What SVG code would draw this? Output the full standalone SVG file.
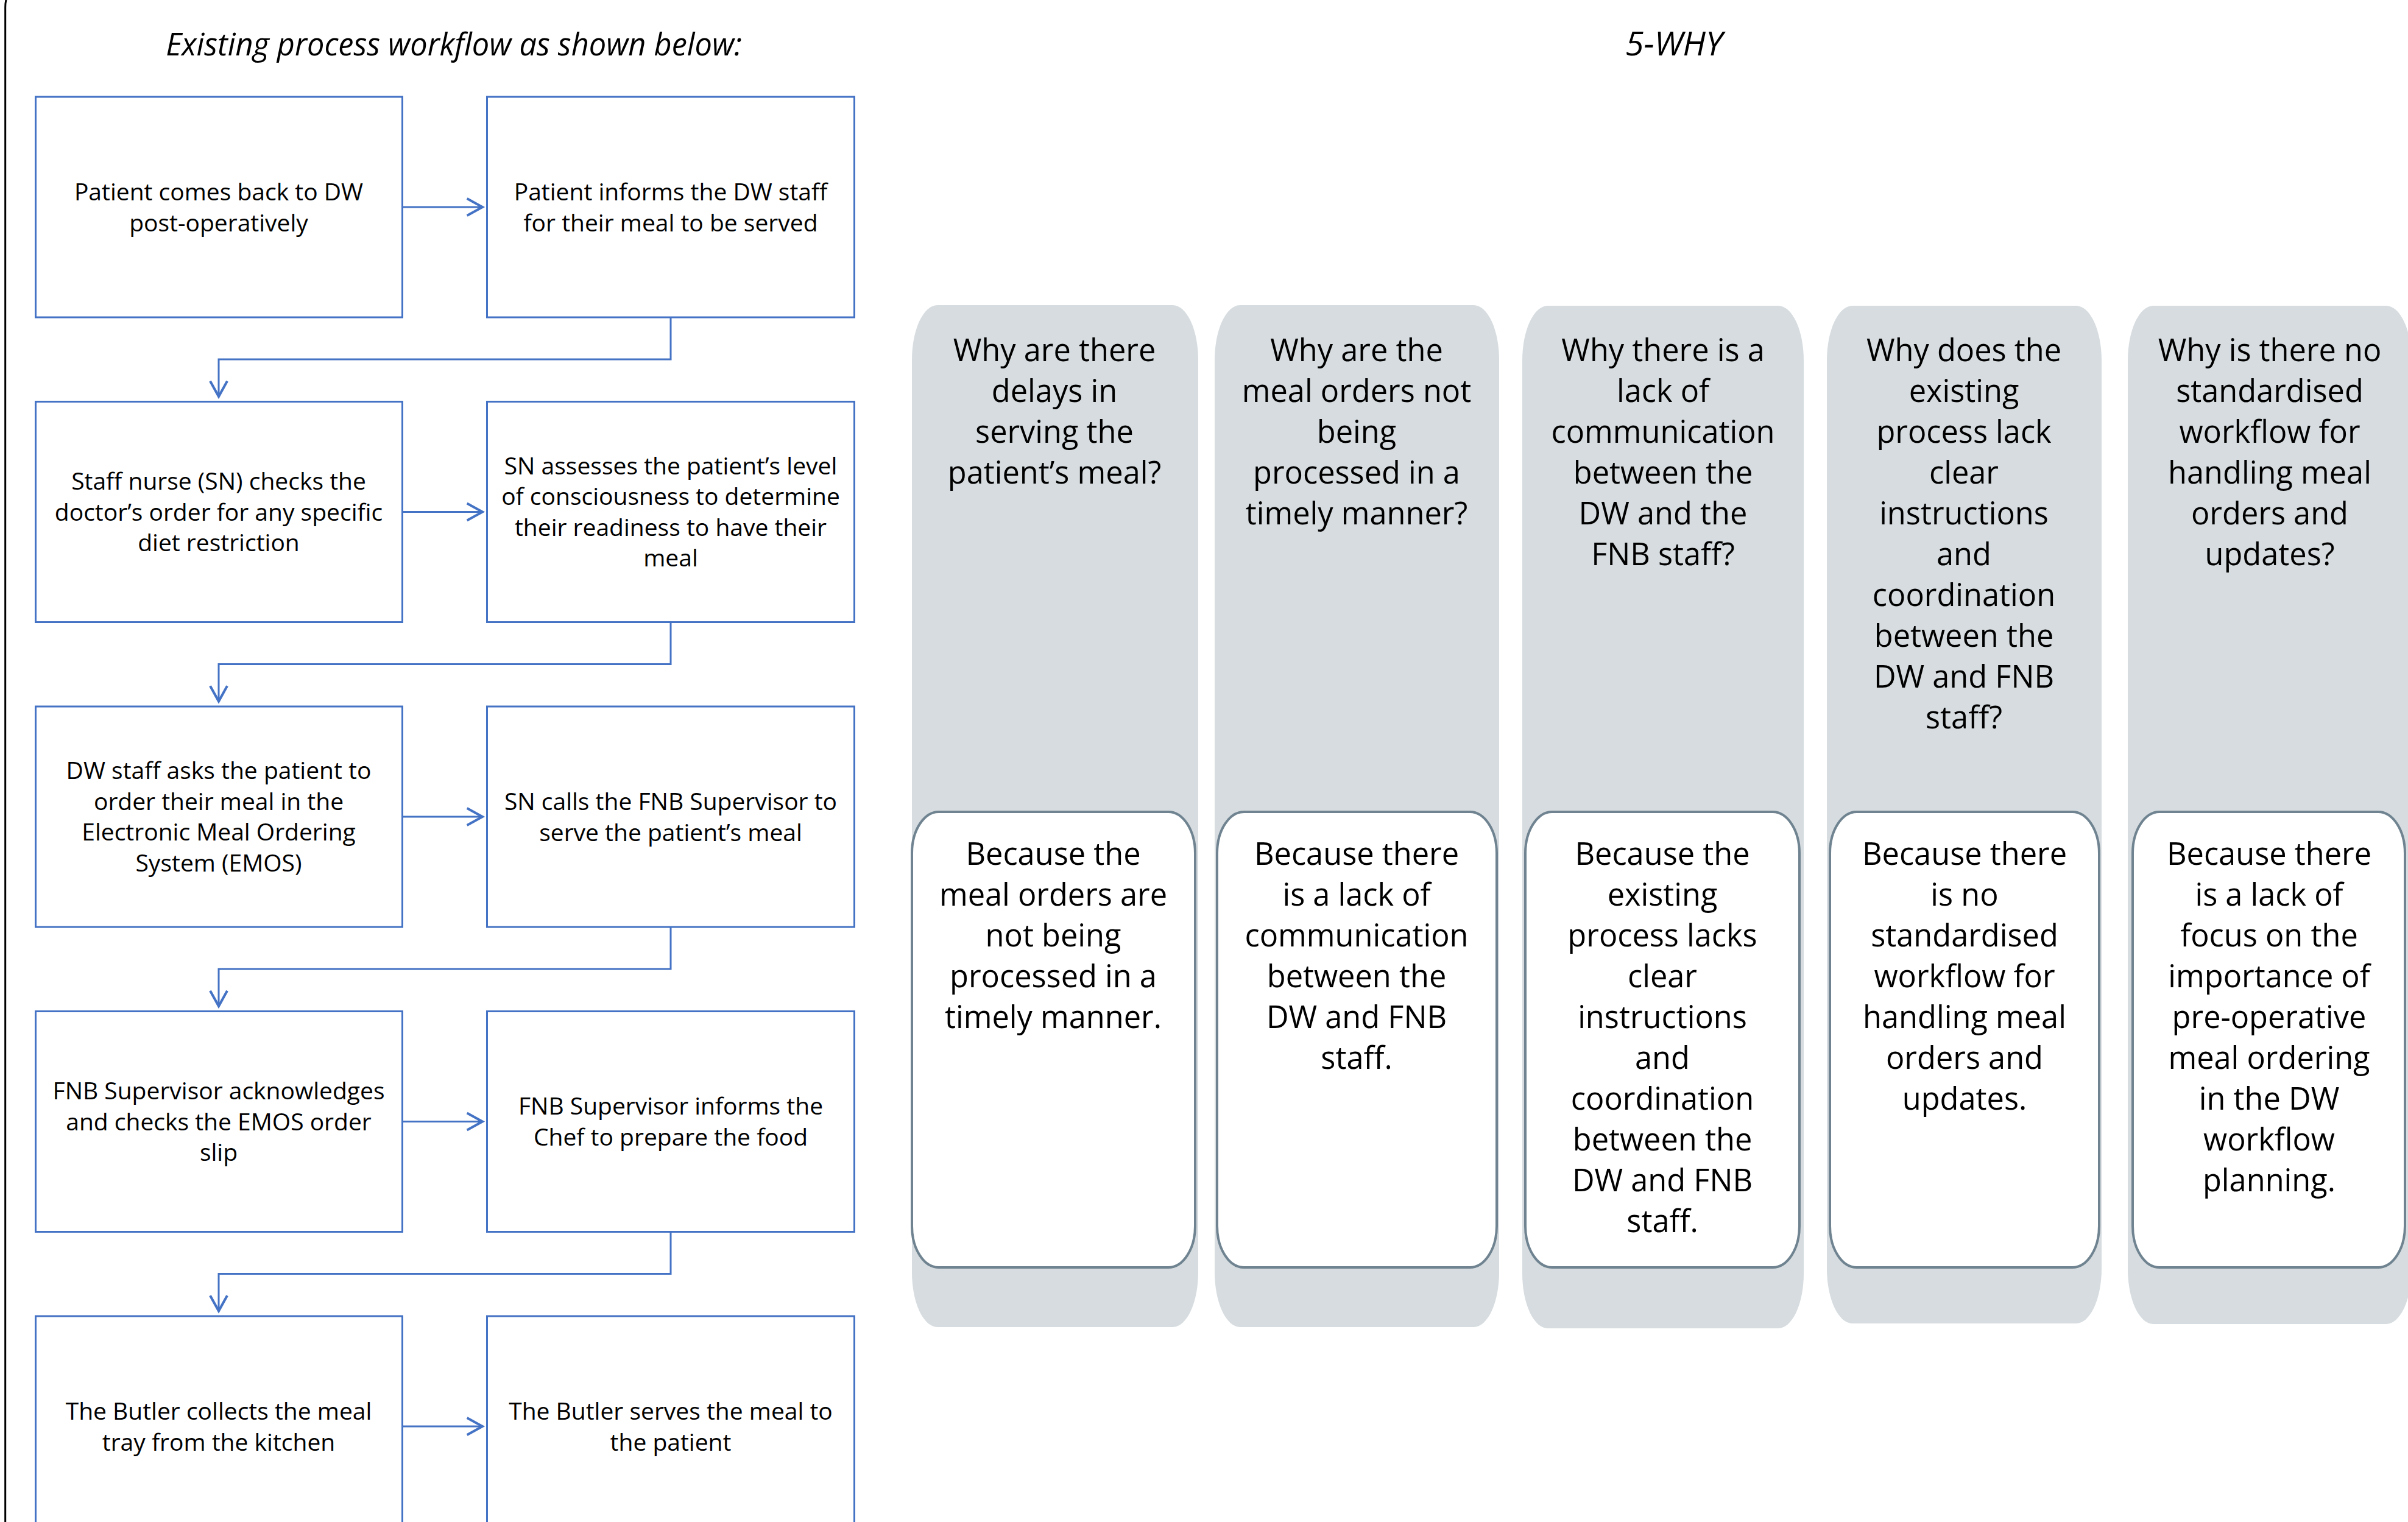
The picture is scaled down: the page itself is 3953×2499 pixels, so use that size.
<svg xmlns="http://www.w3.org/2000/svg" width="3953" height="2499" viewBox="0 0 3953 2499">
<style>
.bg{fill:#ffffff}
.frame{fill:none;stroke:#000000;stroke-width:3}
.title{font-family:"Open Sans","Noto Sans",sans-serif;font-style:italic;font-size:50.5px;fill:#000;text-anchor:middle}
.title2{font-family:"Open Sans","Noto Sans",sans-serif;font-style:italic;font-size:55px;fill:#000;text-anchor:middle}
.box{fill:#ffffff;stroke:#4472C4;stroke-width:3}
.ft{font-family:"Open Sans","Noto Sans",sans-serif;font-size:39px;fill:#000;text-anchor:middle}
.conn{fill:none;stroke:#4472C4;stroke-width:3}
.col{fill:#D6DCDF;stroke:none}
.ans{fill:#ffffff;stroke:#6F8390;stroke-width:4}
.wt{font-family:"Open Sans","Noto Sans",sans-serif;font-size:50.5px;fill:#000;text-anchor:middle}
</style>
<defs>
<marker id="arr" markerUnits="userSpaceOnUse" markerWidth="40" markerHeight="40" refX="0" refY="0" viewBox="-25 -15 30 30" orient="auto" overflow="visible">
<path d="M -19,-10.5 L 0,0 L -19,10.5" fill="none" stroke="#4472C4" stroke-width="3"/>
</marker>
</defs>
<rect class="bg" x="0" y="0" width="3953" height="2499"/>
<path class="frame" d="M 8.7,2510 L 8.7,12 Q 8.7,-2 14,-10"/>
<text class="title" x="745" y="91">Existing process workflow as shown below:</text>
<text class="title2" x="2748" y="91">5-WHY</text>

<g id="connectors">
<path class="conn" d="M 661,340 L 792,340" marker-end="url(#arr)"/>
<path class="conn" d="M 661,840.5 L 792,840.5" marker-end="url(#arr)"/>
<path class="conn" d="M 661,1341 L 792,1341" marker-end="url(#arr)"/>
<path class="conn" d="M 661,1841.5 L 792,1841.5" marker-end="url(#arr)"/>
<path class="conn" d="M 661,2342 L 792,2342" marker-end="url(#arr)"/>
<path class="conn" d="M 1101,521 L 1101,590 L 359,590 L 359,651" marker-end="url(#arr)"/>
<path class="conn" d="M 1101,1021.5 L 1101,1090.5 L 359,1090.5 L 359,1151.5" marker-end="url(#arr)"/>
<path class="conn" d="M 1101,1522 L 1101,1591 L 359,1591 L 359,1652" marker-end="url(#arr)"/>
<path class="conn" d="M 1101,2022.5 L 1101,2091.5 L 359,2091.5 L 359,2152.5" marker-end="url(#arr)"/>
</g>

<g id="n1"><rect class="box" x="58.5" y="159" width="602" height="362"/>
<text class="ft" x="359" y="329">Patient comes back to DW</text><text class="ft" x="359" y="379.5">post-operatively</text></g>
<g id="n2"><rect class="box" x="799.5" y="159" width="603" height="362"/>
<text class="ft" x="1101" y="329">Patient informs the DW staff</text><text class="ft" x="1101" y="379.5">for their meal to be served</text></g>

<g id="n3"><rect class="box" x="58.5" y="659.5" width="602" height="362"/>
<text class="ft" x="359" y="804">Staff nurse (SN) checks the</text><text class="ft" x="359" y="854.5">doctor’s order for any specific</text><text class="ft" x="359" y="905">diet restriction</text></g>
<g id="n4"><rect class="box" x="799.5" y="659.5" width="603" height="362"/>
<text class="ft" x="1101" y="778.5">SN assesses the patient’s level</text><text class="ft" x="1101" y="829">of consciousness to determine</text><text class="ft" x="1101" y="879.5">their readiness to have their</text><text class="ft" x="1101" y="930">meal</text></g>

<g id="n5"><rect class="box" x="58.5" y="1160" width="602" height="362"/>
<text class="ft" x="359" y="1279">DW staff asks the patient to</text><text class="ft" x="359" y="1329.5">order their meal in the</text><text class="ft" x="359" y="1380">Electronic Meal Ordering</text><text class="ft" x="359" y="1430.5">System (EMOS)</text></g>
<g id="n6"><rect class="box" x="799.5" y="1160" width="603" height="362"/>
<text class="ft" x="1101" y="1330">SN calls the FNB Supervisor to</text><text class="ft" x="1101" y="1380.5">serve the patient’s meal</text></g>

<g id="n7"><rect class="box" x="58.5" y="1660.5" width="602" height="362"/>
<text class="ft" x="359" y="1805">FNB Supervisor acknowledges</text><text class="ft" x="359" y="1855.5">and checks the EMOS order</text><text class="ft" x="359" y="1906">slip</text></g>
<g id="n8"><rect class="box" x="799.5" y="1660.5" width="603" height="362"/>
<text class="ft" x="1101" y="1830">FNB Supervisor informs the</text><text class="ft" x="1101" y="1880.5">Chef to prepare the food</text></g>

<g id="n9"><rect class="box" x="58.5" y="2161" width="602" height="362"/>
<text class="ft" x="359" y="2331">The Butler collects the meal</text><text class="ft" x="359" y="2381.5">tray from the kitchen</text></g>
<g id="n10"><rect class="box" x="799.5" y="2161" width="603" height="362"/>
<text class="ft" x="1101" y="2331">The Butler serves the meal to</text><text class="ft" x="1101" y="2381.5">the patient</text></g>

<g id="why1">
<rect class="col" x="1497" y="501" width="470" height="1678" rx="42" ry="90"/>
<text class="wt" x="1731"><tspan x="1731" y="593">Why are there</tspan><tspan x="1731" y="660">delays in</tspan><tspan x="1731" y="727">serving the</tspan><tspan x="1731" y="794">patient’s meal?</tspan></text>
<rect class="ans" x="1497" y="1333" width="465" height="748" rx="44" ry="68"/>
<text class="wt" x="1729"><tspan x="1729" y="1420">Because the</tspan><tspan x="1729" y="1487">meal orders are</tspan><tspan x="1729" y="1554">not being</tspan><tspan x="1729" y="1621">processed in a</tspan><tspan x="1729" y="1688">timely manner.</tspan></text>
</g>

<g id="why2">
<rect class="col" x="1994" y="501" width="467" height="1678" rx="42" ry="90"/>
<text class="wt" x="2227"><tspan x="2227" y="593">Why are the</tspan><tspan x="2227" y="660">meal orders not</tspan><tspan x="2227" y="727">being</tspan><tspan x="2227" y="794">processed in a</tspan><tspan x="2227" y="861">timely manner?</tspan></text>
<rect class="ans" x="1998" y="1333" width="459" height="748" rx="44" ry="68"/>
<text class="wt" x="2227"><tspan x="2227" y="1420">Because there</tspan><tspan x="2227" y="1487">is a lack of</tspan><tspan x="2227" y="1554">communication</tspan><tspan x="2227" y="1621">between the</tspan><tspan x="2227" y="1688">DW and FNB</tspan><tspan x="2227" y="1755">staff.</tspan></text>
</g>

<g id="why3">
<rect class="col" x="2499" y="502" width="462" height="1679" rx="42" ry="90"/>
<text class="wt" x="2730"><tspan x="2730" y="593">Why there is a</tspan><tspan x="2730" y="660">lack of</tspan><tspan x="2730" y="727">communication</tspan><tspan x="2730" y="794">between the</tspan><tspan x="2730" y="861">DW and the</tspan><tspan x="2730" y="928">FNB staff?</tspan></text>
<rect class="ans" x="2504" y="1333" width="450" height="748" rx="44" ry="68"/>
<text class="wt" x="2729"><tspan x="2729" y="1420">Because the</tspan><tspan x="2729" y="1487">existing</tspan><tspan x="2729" y="1554">process lacks</tspan><tspan x="2729" y="1621">clear</tspan><tspan x="2729" y="1688">instructions</tspan><tspan x="2729" y="1755">and</tspan><tspan x="2729" y="1822">coordination</tspan><tspan x="2729" y="1889">between the</tspan><tspan x="2729" y="1956">DW and FNB</tspan><tspan x="2729" y="2023">staff.</tspan></text>
</g>

<g id="why4">
<rect class="col" x="2999" y="502" width="451" height="1671" rx="42" ry="90"/>
<text class="wt" x="3224"><tspan x="3224" y="593">Why does the</tspan><tspan x="3224" y="660">existing</tspan><tspan x="3224" y="727">process lack</tspan><tspan x="3224" y="794">clear</tspan><tspan x="3224" y="861">instructions</tspan><tspan x="3224" y="928">and</tspan><tspan x="3224" y="995">coordination</tspan><tspan x="3224" y="1062">between the</tspan><tspan x="3224" y="1129">DW and FNB</tspan><tspan x="3224" y="1196">staff?</tspan></text>
<rect class="ans" x="3004" y="1333" width="442" height="748" rx="44" ry="68"/>
<text class="wt" x="3225"><tspan x="3225" y="1420">Because there</tspan><tspan x="3225" y="1487">is no</tspan><tspan x="3225" y="1554">standardised</tspan><tspan x="3225" y="1621">workflow for</tspan><tspan x="3225" y="1688">handling meal</tspan><tspan x="3225" y="1755">orders and</tspan><tspan x="3225" y="1822">updates.</tspan></text>
</g>

<g id="why5">
<rect class="col" x="3493" y="502" width="466" height="1672" rx="42" ry="90"/>
<text class="wt" x="3726"><tspan x="3726" y="593">Why is there no</tspan><tspan x="3726" y="660">standardised</tspan><tspan x="3726" y="727">workflow for</tspan><tspan x="3726" y="794">handling meal</tspan><tspan x="3726" y="861">orders and</tspan><tspan x="3726" y="928">updates?</tspan></text>
<rect class="ans" x="3501" y="1333" width="447" height="748" rx="44" ry="68"/>
<text class="wt" x="3725"><tspan x="3725" y="1420">Because there</tspan><tspan x="3725" y="1487">is a lack of</tspan><tspan x="3725" y="1554">focus on the</tspan><tspan x="3725" y="1621">importance of</tspan><tspan x="3725" y="1688">pre-operative</tspan><tspan x="3725" y="1755">meal ordering</tspan><tspan x="3725" y="1822">in the DW</tspan><tspan x="3725" y="1889">workflow</tspan><tspan x="3725" y="1956">planning.</tspan></text>
</g>
</svg>
